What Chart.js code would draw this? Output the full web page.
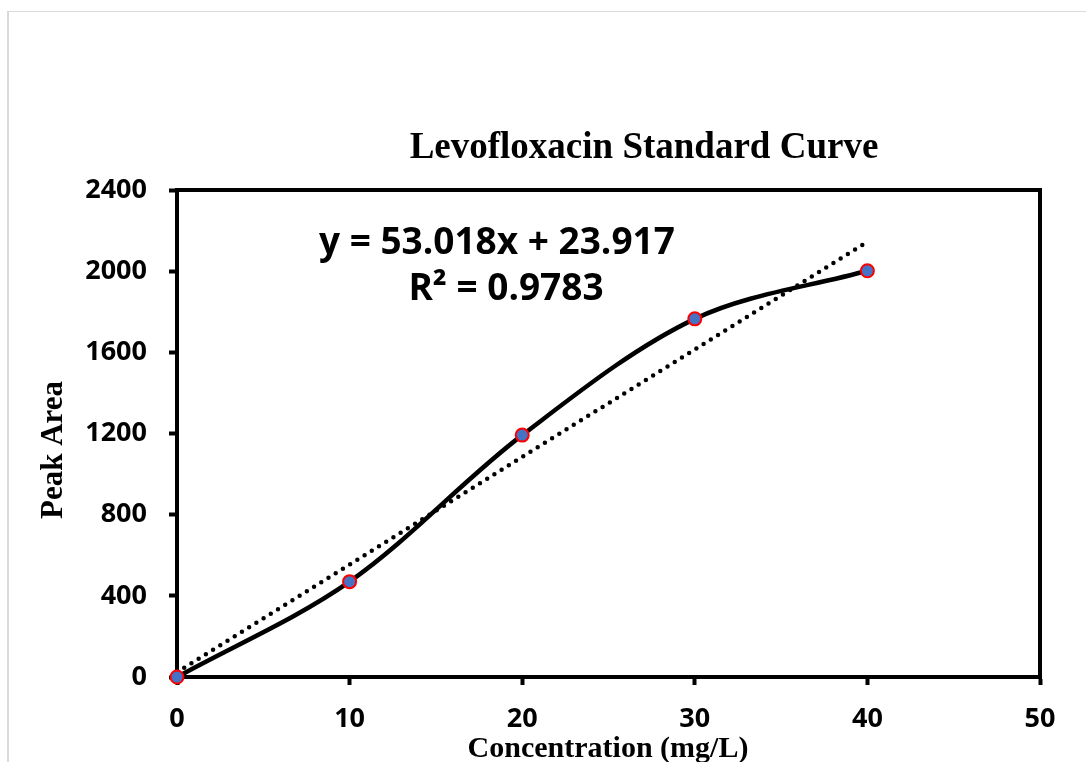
<!DOCTYPE html>
<html lang="en">

<head>
    <meta charset="UTF-8">
    <title>Levofloxacin Standard Curve</title>
    <script src="https://cdn.jsdelivr.net/npm/chart.js"></script>
    <style>
        body {
            margin: 0;
            background: #fff;
        }

        #frame {
            position: absolute;
            left: 7px;
            top: 11px;
            width: 1079px;
            height: 751px;
            border-left: 2px solid #d9d9d9;
            border-top: 1px solid #d9d9d9;
        }

        #chart {
            position: absolute;
            left: 0;
            top: 0;
        }
    </style>
</head>

<body>
    <div id="frame"></div>
    <canvas id="chart" width="1086" height="762"></canvas>

    <script>
        // Measured standards (concentration mg/L vs peak area)
        var concentrations = [0, 10, 20, 30, 40];
        var peakAreas = [0, 470, 1192, 1765, 2002];

        // Linear trendline endpoints (y = 53.018x + 23.917)
        var trendX = [0, 40];
        var trendY = [23.9, 2144.6];

        var xTicks = [0, 10, 20, 30, 40, 50];
        var yTicks = [0, 400, 800, 1200, 1600, 2000, 2400];

        var titleText = 'Levofloxacin Standard Curve';
        var equationText = 'y = 53.018x + 23.917';
        var r2Text = 'R² = 0.9783';
        var xTitle = 'Concentration (mg/L)';
        var yTitle = 'Peak Area';

        var points = concentrations.map((c, i) => ({ x: c, y: peakAreas[i] }));
        var trendPoints = trendX.map((c, i) => ({ x: c, y: trendY[i] }));

        // frame round the plot + all the free text
        var textPlugin = {
            id: 'texts',
            beforeDatasetsDraw(chart) {
                var a = chart.chartArea;
                var ctx = chart.ctx;
                ctx.save();
                ctx.strokeStyle = '#000';
                ctx.lineWidth = 4;
                ctx.strokeRect(a.left, a.top, a.right - a.left, a.bottom - a.top);
                ctx.restore();
            },
            afterDraw(chart) {
                var ctx = chart.ctx;
                ctx.save();
                ctx.fillStyle = '#000';
                ctx.textBaseline = 'alphabetic';

                ctx.font = 'bold 37px "Liberation Serif"';
                ctx.textAlign = 'center';
                ctx.fillText(titleText, 644, 158);

                ctx.font = 'bold 37px "Open Sans"';
                ctx.textAlign = 'left';
                ctx.fillText(equationText, 319, 254);
                ctx.textAlign = 'center';
                ctx.fillText(r2Text, 506, 300);

                ctx.font = 'bold 30px "Liberation Serif"';
                ctx.fillText(xTitle, 608, 757);

                ctx.font = 'bold 31px "Liberation Serif"';
                ctx.translate(62, 450);
                ctx.rotate(-Math.PI / 2);
                ctx.fillText(yTitle, 0, 0);
                ctx.restore();
            }
        };

        var tickFont = { family: 'Open Sans', weight: 'bold', size: 27 };

        var ctx = document.getElementById('chart').getContext('2d');
        var standardChart = new Chart(ctx, {
            type: 'scatter',
            data: {
                datasets: [
                    {
                        label: 'Peak Area',
                        data: points,
                        showLine: true,
                        tension: 0.33,
                        borderColor: '#000',
                        borderWidth: 4.5,
                        pointRadius: 6.5,
                        pointBackgroundColor: '#4472C4',
                        pointBorderColor: '#FF0000',
                        pointBorderWidth: 2,
                        clip: false,
                        order: 0
                    },
                    {
                        label: 'Linear',
                        data: trendPoints,
                        showLine: true,
                        borderColor: '#000',
                        borderWidth: 4.5,
                        borderDash: [0, 8.5],
                        borderCapStyle: 'round',
                        pointRadius: 0,
                        clip: false,
                        order: 1
                    }
                ]
            },
            options: {
                responsive: false,
                animation: false,
                layout: {
                    padding: { left: 0, top: 190, right: 46, bottom: 0 }
                },
                plugins: {
                    legend: { display: false },
                    tooltip: { enabled: false }
                },
                scales: {
                    x: {
                        type: 'linear',
                        min: 0,
                        max: 50,
                        afterFit: s => { s.height = 85; },
                        afterBuildTicks: s => { s.ticks = xTicks.map(v => ({ value: v })); },
                        border: { display: true, color: '#000', width: 4 },
                        grid: {
                            drawOnChartArea: false,
                            drawTicks: true,
                            tickLength: 8,
                            tickWidth: 4,
                            tickColor: '#000'
                        },
                        ticks: {
                            color: '#000', font: tickFont, padding: 18, maxRotation: 0,
                            callback: v => String(v)
                        }
                    },
                    y: {
                        min: 0,
                        max: 2400,
                        afterFit: s => { s.width = 177; },
                        afterBuildTicks: s => { s.ticks = yTicks.map(v => ({ value: v })); },
                        border: { display: true, color: '#000', width: 4 },
                        grid: {
                            drawOnChartArea: false,
                            drawTicks: true,
                            tickLength: 8,
                            tickWidth: 4,
                            tickColor: '#000'
                        },
                        ticks: {
                            color: '#000', font: tickFont, padding: 22,
                            callback: v => String(v)
                        }
                    }
                }
            },
            plugins: [textPlugin]
        });
    </script>
</body>

</html>
